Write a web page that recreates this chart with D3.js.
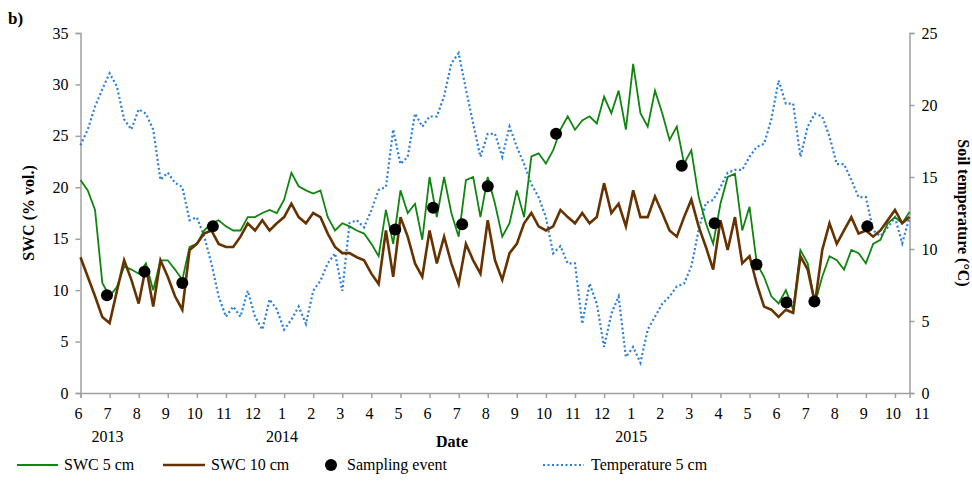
<!DOCTYPE html>
<html><head><meta charset="utf-8">
<script src="https://cdn.jsdelivr.net/npm/d3@7"></script>
<style>body{margin:0;background:#fff}text{font-family:"Liberation Serif","Times New Roman",serif}</style>
</head><body><svg id="c" width="972" height="482"></svg>
<script>
// month index step 0.25 starting June 2013 (last point at 28.5)
const monthLabels = ["6","7","8","9","10","11","12","1","2","3","4","5","6","7","8","9","10","11","12","1","2","3","4","5","6","7","8","9","10","11"];
const yearLabels = [{m:1,t:"2013"},{m:7,t:"2014"},{m:19,t:"2015"}];
const swc5 = [20.7,19.7,17.8,10.7, 9.4,10.3,12.3,12.0, 11.6,12.6,10.0,12.9, 12.9,12.0,11.0,14.2,
 14.5,15.8,16.5,16.8, 16.2,15.8,15.8,17.1, 17.1,17.5,17.8,17.5, 18.8,21.4,20.1,19.7,
 19.4,19.7,17.1,15.8, 16.5,16.2,15.8,15.5, 14.5,13.3,17.8,14.5, 19.7,17.5,18.4,14.9,
 21.0,17.1,21.0,17.5, 15.2,20.7,21.0,17.1, 21.0,18.4,15.2,16.5, 19.7,17.1,23.0,23.3,
 22.3,23.6,25.6,26.9, 25.6,26.5,26.9,26.2, 28.8,27.2,29.4,25.6, 32.0,27.2,25.9,29.4,
 27.2,24.6,25.9,22.3, 23.6,19.1,16.5,14.5, 18.4,21.0,21.3,15.8, 18.1,12.6,11.3,9.4,
 8.7,10.0,8.1,13.9, 12.6,8.7,11.3,13.3, 12.9,12.0,13.9,13.6, 12.6,14.5,14.9,16.5, 17.1,16.5,17.6];
const swc10 = [13.2,11.3,9.4,7.4, 6.8,9.9,12.9,11.0, 8.7,12.3,8.4,12.9, 11.3,9.4,8.1,13.9,
 14.5,15.5,15.8,14.5, 14.2,14.2,15.2,16.5, 15.8,16.8,15.8,16.5, 17.1,18.4,17.1,16.5,
 17.5,17.1,15.5,14.2, 13.6,13.6,13.2,12.9, 11.6,10.6,15.8,11.3, 17.1,15.2,12.6,11.3,
 15.8,12.6,15.2,12.6, 10.6,14.5,12.9,11.6, 16.8,12.9,11.0,13.6, 14.5,16.5,17.5,16.2,
 15.8,16.2,17.8,17.1, 16.5,17.5,16.5,17.1, 20.4,17.5,18.4,16.2, 19.7,17.1,17.1,19.1,
 17.5,15.8,15.2,17.1, 18.8,16.2,14.2,12.0, 16.8,13.9,17.1,12.6, 13.3,10.6,8.4,8.1,
 7.4,8.1,7.8,13.3, 12.0,8.7,13.9,16.5, 14.5,15.8,17.1,15.5, 15.8,15.2,15.8,16.8, 17.8,16.5,17.1];
const temp5 = [17.2,18.3,19.9,21.1, 22.2,21.3,19.0,18.3, 19.7,19.4,18.3,14.8, 15.3,14.6,14.3,12.0,
 12.2,10.9,9.0,6.7, 5.3,6.0,5.3,7.1, 5.3,4.4,6.5,5.8, 4.4,5.1,6.0,4.8,
 7.1,7.8,9.0,9.7, 7.1,11.8,12.0,11.5, 12.7,14.1,14.3,18.3, 15.9,16.4,19.4,18.5,
 19.2,19.2,20.6,22.9, 23.6,21.1,18.7,16.4, 18.0,18.0,16.4,18.5, 17.1,15.9,14.5,13.6,
 12.2,9.7,10.2,9.0, 9.0,4.8,7.6,6.2, 3.2,5.5,6.7,2.5, 3.2,2.1,4.4,5.3,
 6.2,6.7,7.4,7.6, 8.8,11.3,13.2,13.4, 14.3,15.3,15.5,15.5, 16.4,17.1,17.3,19.0,
 21.7,20.1,20.1,16.4, 18.5,19.4,19.2,17.8, 15.9,15.9,14.8,13.6, 13.6,11.3,10.9,11.5, 12.2,10.4,12.2];
const sampleMonth = [0.91,2.2,3.5,4.55,10.82,12.12,13.12,14.0,16.35,20.67,21.8,23.24,24.27,25.23,27.05];
const sampleSWC = [9.5,11.8,10.7,16.2,15.9,18.0,16.4,20.1,25.2,22.1,16.5,12.5,8.8,8.9,16.2];

const svg = d3.select("#c");
const L=80.5,R=909.5,T=33,B=393;
const x = d3.scaleLinear().domain([0,28.5]).range([L,R]);
const yL = d3.scaleLinear().domain([0,35]).range([B,T]);
const yR = d3.scaleLinear().domain([0,25]).range([B,T]);
const m = i => i*0.25;
const ax = "#a0a0a0";

// axes
const gl = svg.append("g").attr("transform",`translate(${L},0)`).call(d3.axisLeft(yL).tickValues(d3.range(0,36,5)).tickSize(5).tickFormat(d3.format("d")));
const gr = svg.append("g").attr("transform",`translate(${R},0)`).call(d3.axisRight(yR).tickValues(d3.range(0,26,5)).tickSize(5).tickFormat(d3.format("d")));
const gb = svg.append("g").attr("transform",`translate(0,${B})`).call(d3.axisBottom(x).tickValues(d3.range(0,29,1)).tickSize(5).tickFormat(""));
[gl,gr,gb].forEach(g=>{g.selectAll("path,line").attr("stroke",ax).attr("stroke-width",1.5);g.selectAll("text").attr("font-size",16).attr("fill","#000").attr("font-family","Liberation Serif");});
gl.selectAll("text").attr("x",-12);
gr.selectAll("text").attr("x",12);
svg.append("g").selectAll("text").data(monthLabels).join("text")
  .attr("x",(d,i)=>x(i)-2).attr("y",419).attr("text-anchor","middle").attr("font-size",16).text(d=>d);
svg.append("g").selectAll("text").data(yearLabels).join("text")
  .attr("x",d=>x(d.m)-2).attr("y",442).attr("text-anchor","middle").attr("font-size",16).text(d=>d.t);

// lines
const line = (y)=>d3.line().x((d,i)=>x(Math.min(m(i),28.5))).y(d=>y(d));
svg.append("path").datum(temp5).attr("d",line(yR)).attr("fill","none").attr("stroke","#2a7fd8").attr("stroke-width",2.2).attr("stroke-dasharray","2,2.5");
svg.append("path").datum(swc5).attr("d",line(yL)).attr("fill","none").attr("stroke","#108510").attr("stroke-width",1.8);
svg.append("path").datum(swc10).attr("d",line(yL)).attr("fill","none").attr("stroke","#663300").attr("stroke-width",2.6);
svg.append("g").selectAll("circle").data(sampleSWC).join("circle")
  .attr("cx",(d,i)=>x(sampleMonth[i])).attr("cy",d=>yL(d)).attr("r",6).attr("fill","#000");

// titles
svg.append("text").attr("x",8).attr("y",24).attr("font-size",17).attr("font-weight","bold").text("b)");
svg.append("text").attr("transform","translate(34,213) rotate(-90)").attr("text-anchor","middle").attr("font-size",16).attr("font-weight","bold").text("SWC (% vol.)");
svg.append("text").attr("transform","translate(958,213) rotate(90)").attr("text-anchor","middle").attr("font-size",16).attr("font-weight","bold").text("Soil temperature (°C)");
svg.append("text").attr("x",452).attr("y",447).attr("text-anchor","middle").attr("font-size",16).attr("font-weight","bold").text("Date");

// legend
const lg = svg.append("g");
const ly = 465;
lg.append("line").attr("x1",17).attr("x2",58).attr("y1",ly).attr("y2",ly).attr("stroke","#108510").attr("stroke-width",1.8);
lg.append("text").attr("x",64).attr("y",ly+5).attr("font-size",16).text("SWC 5 cm");
lg.append("line").attr("x1",163).attr("x2",205).attr("y1",ly).attr("y2",ly).attr("stroke","#663300").attr("stroke-width",2.6);
lg.append("text").attr("x",211).attr("y",ly+5).attr("font-size",16).text("SWC 10 cm");
lg.append("circle").attr("cx",331).attr("cy",ly).attr("r",6).attr("fill","#000");
lg.append("text").attr("x",347).attr("y",ly+5).attr("font-size",16).text("Sampling event");
lg.append("line").attr("x1",543).attr("x2",584).attr("y1",ly).attr("y2",ly).attr("stroke","#2a7fd8").attr("stroke-width",2.2).attr("stroke-dasharray","2,2.5");
lg.append("text").attr("x",591).attr("y",ly+5).attr("font-size",16).text("Temperature 5 cm");
</script></body></html>
